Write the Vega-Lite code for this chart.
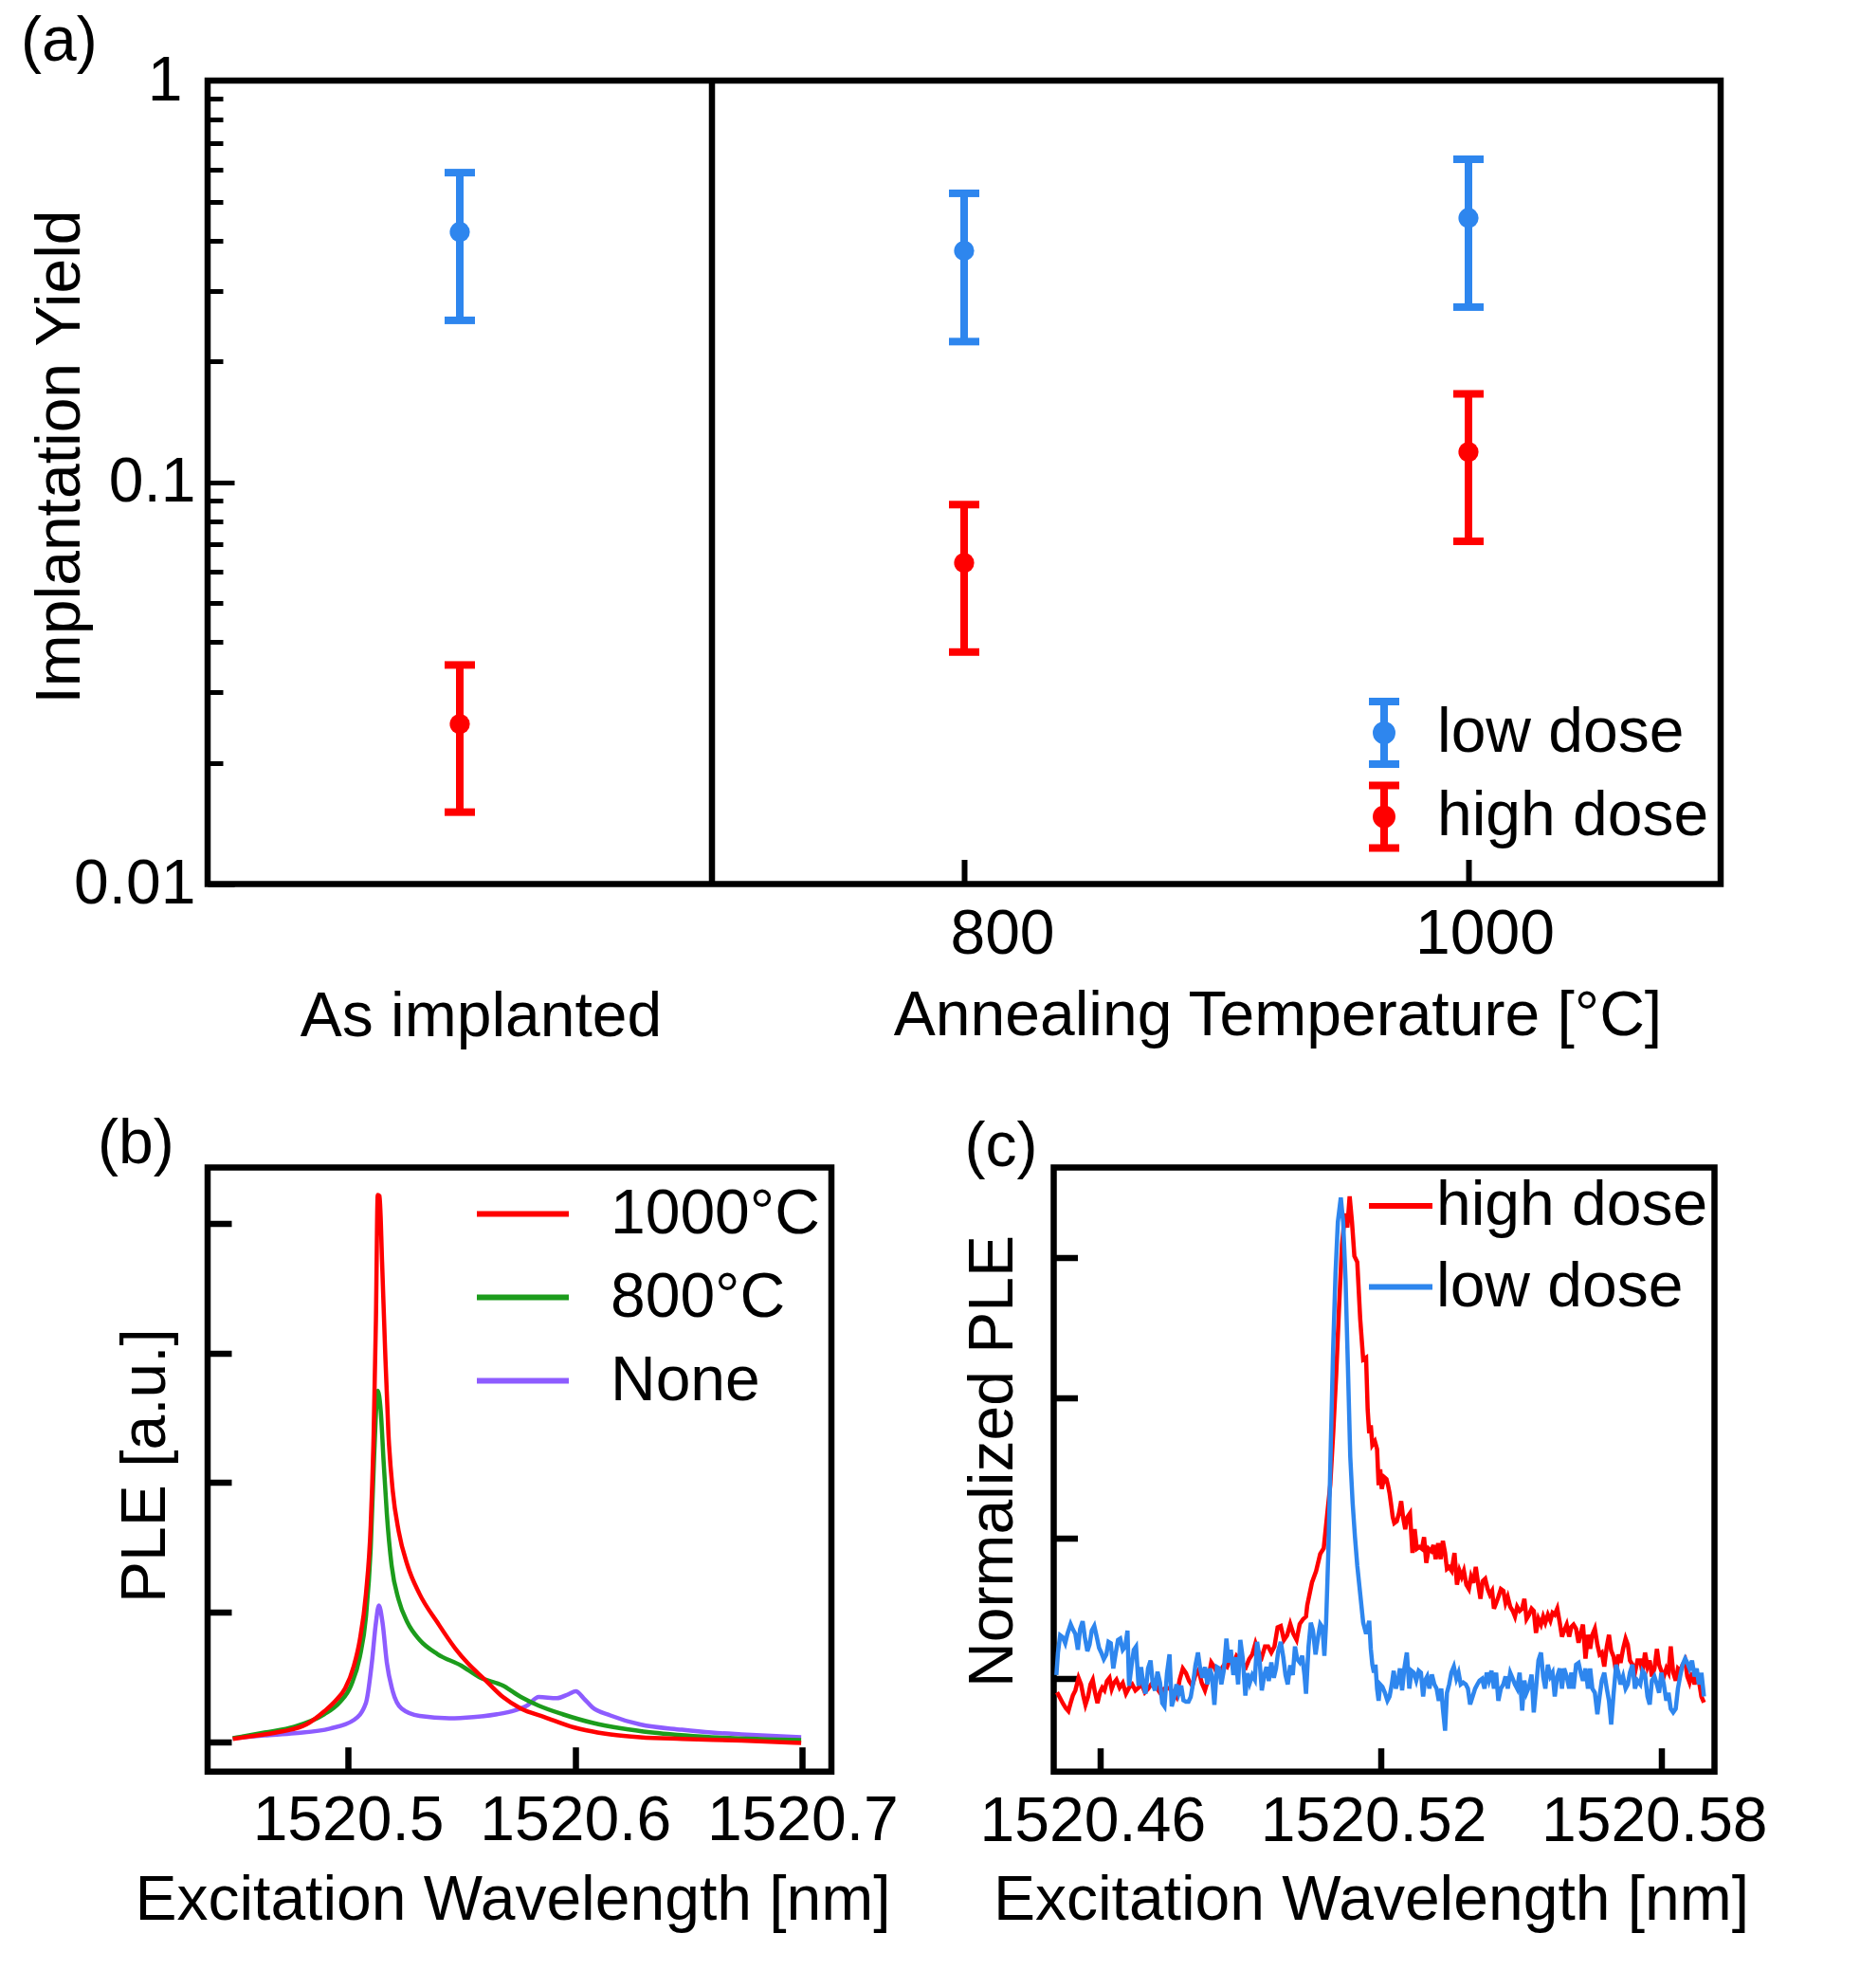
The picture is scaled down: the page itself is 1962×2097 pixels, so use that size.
{
  "$schema": "https://vega.github.io/schema/vega-lite/v6.json",
  "background": "white",
  "padding": {"left": 18, "top": 7, "right": 20, "bottom": 20},
  "config": {
    "font": "Liberation Sans",
    "view": {"stroke": "black", "strokeWidth": 6.5},
    "axis": {"domain": false, "grid": false, "tickColor": "black", "labelColor": "black", "titleColor": "black", "labelFont": "Liberation Sans", "titleFont": "Liberation Sans", "labelFontSize": 66, "titleFontSize": 66, "titleFontWeight": "normal", "tickWidth": 6, "labelFlush": false, "labelOverlap": false, "labelBound": false, "labelLimit": 0, "titleLimit": 0},
    "legend": {"labelFont": "Liberation Sans", "labelFontSize": 66, "labelColor": "black", "padding": 0, "labelLimit": 0},
    "title": {"font": "Liberation Sans", "fontSize": 66, "fontWeight": "normal", "color": "black", "anchor": "start", "frame": "group", "baseline": "alphabetic", "offset": 0}
  },
  "datasets": {
    "yield": [
      {"group": "As implanted", "pos": 600, "dose": "low dose", "yield": 0.42, "lo": 0.253, "hi": 0.59},
      {"group": "As implanted", "pos": 600, "dose": "high dose", "yield": 0.025, "lo": 0.0151, "hi": 0.0351},
      {"group": "800", "pos": 800, "dose": "low dose", "yield": 0.377, "lo": 0.224, "hi": 0.524},
      {"group": "800", "pos": 800, "dose": "high dose", "yield": 0.063, "lo": 0.0378, "hi": 0.088},
      {"group": "1000", "pos": 1000, "dose": "low dose", "yield": 0.455, "lo": 0.273, "hi": 0.637},
      {"group": "1000", "pos": 1000, "dose": "high dose", "yield": 0.119, "lo": 0.0713, "hi": 0.166}
    ],
    "divider": [{"boundary": 700}],
    "ple_b": [
      {"anneal": "None", "wl": 1520.4493, "ple": 0.027},
      {"anneal": "None", "wl": 1520.4633, "ple": 0.049},
      {"anneal": "None", "wl": 1520.4764, "ple": 0.066},
      {"anneal": "None", "wl": 1520.4921, "ple": 0.102},
      {"anneal": "None", "wl": 1520.5026, "ple": 0.168},
      {"anneal": "None", "wl": 1520.5079, "ple": 0.3},
      {"anneal": "None", "wl": 1520.5105, "ple": 0.61},
      {"anneal": "None", "wl": 1520.5123, "ple": 0.919},
      {"anneal": "None", "wl": 1520.5136, "ple": 1.051},
      {"anneal": "None", "wl": 1520.5152, "ple": 0.919},
      {"anneal": "None", "wl": 1520.5171, "ple": 0.61},
      {"anneal": "None", "wl": 1520.5197, "ple": 0.389},
      {"anneal": "None", "wl": 1520.5236, "ple": 0.256},
      {"anneal": "None", "wl": 1520.5315, "ple": 0.199},
      {"anneal": "None", "wl": 1520.5446, "ple": 0.181},
      {"anneal": "None", "wl": 1520.5551, "ple": 0.19},
      {"anneal": "None", "wl": 1520.5656, "ple": 0.212},
      {"anneal": "None", "wl": 1520.5735, "ple": 0.243},
      {"anneal": "None", "wl": 1520.5787, "ple": 0.278},
      {"anneal": "None", "wl": 1520.584, "ple": 0.345},
      {"anneal": "None", "wl": 1520.5919, "ple": 0.336},
      {"anneal": "None", "wl": 1520.5971, "ple": 0.367},
      {"anneal": "None", "wl": 1520.6003, "ple": 0.389},
      {"anneal": "None", "wl": 1520.6037, "ple": 0.336},
      {"anneal": "None", "wl": 1520.6076, "ple": 0.265},
      {"anneal": "None", "wl": 1520.6155, "ple": 0.203},
      {"anneal": "None", "wl": 1520.6286, "ple": 0.133},
      {"anneal": "None", "wl": 1520.647, "ple": 0.093},
      {"anneal": "None", "wl": 1520.6601, "ple": 0.071},
      {"anneal": "None", "wl": 1520.6732, "ple": 0.057},
      {"anneal": "None", "wl": 1520.6995, "ple": 0.035},
      {"anneal": "800°C", "wl": 1520.4493, "ple": 0.027},
      {"anneal": "800°C", "wl": 1520.4633, "ple": 0.071},
      {"anneal": "800°C", "wl": 1520.4764, "ple": 0.115},
      {"anneal": "800°C", "wl": 1520.4895, "ple": 0.212},
      {"anneal": "800°C", "wl": 1520.4961, "ple": 0.3},
      {"anneal": "800°C", "wl": 1520.5013, "ple": 0.433},
      {"anneal": "800°C", "wl": 1520.5052, "ple": 0.654},
      {"anneal": "800°C", "wl": 1520.5079, "ple": 0.963},
      {"anneal": "800°C", "wl": 1520.51, "ple": 1.493},
      {"anneal": "800°C", "wl": 1520.5115, "ple": 2.2},
      {"anneal": "800°C", "wl": 1520.5131, "ple": 2.708},
      {"anneal": "800°C", "wl": 1520.5144, "ple": 2.553},
      {"anneal": "800°C", "wl": 1520.5157, "ple": 2.155},
      {"anneal": "800°C", "wl": 1520.5171, "ple": 1.758},
      {"anneal": "800°C", "wl": 1520.5192, "ple": 1.36},
      {"anneal": "800°C", "wl": 1520.5223, "ple": 1.095},
      {"anneal": "800°C", "wl": 1520.5262, "ple": 0.919},
      {"anneal": "800°C", "wl": 1520.5315, "ple": 0.786},
      {"anneal": "800°C", "wl": 1520.5394, "ple": 0.676},
      {"anneal": "800°C", "wl": 1520.5499, "ple": 0.587},
      {"anneal": "800°C", "wl": 1520.5577, "ple": 0.499},
      {"anneal": "800°C", "wl": 1520.5682, "ple": 0.433},
      {"anneal": "800°C", "wl": 1520.5761, "ple": 0.345},
      {"anneal": "800°C", "wl": 1520.584, "ple": 0.278},
      {"anneal": "800°C", "wl": 1520.5945, "ple": 0.212},
      {"anneal": "800°C", "wl": 1520.6076, "ple": 0.146},
      {"anneal": "800°C", "wl": 1520.6207, "ple": 0.102},
      {"anneal": "800°C", "wl": 1520.6339, "ple": 0.071},
      {"anneal": "800°C", "wl": 1520.6601, "ple": 0.035},
      {"anneal": "800°C", "wl": 1520.6995, "ple": 0.013},
      {"anneal": "1000°C", "wl": 1520.4493, "ple": 0.022},
      {"anneal": "1000°C", "wl": 1520.458, "ple": 0.044},
      {"anneal": "1000°C", "wl": 1520.4711, "ple": 0.08},
      {"anneal": "1000°C", "wl": 1520.4816, "ple": 0.133},
      {"anneal": "1000°C", "wl": 1520.4895, "ple": 0.234},
      {"anneal": "1000°C", "wl": 1520.4948, "ple": 0.322},
      {"anneal": "1000°C", "wl": 1520.4987, "ple": 0.411},
      {"anneal": "1000°C", "wl": 1520.5026, "ple": 0.587},
      {"anneal": "1000°C", "wl": 1520.5052, "ple": 0.786},
      {"anneal": "1000°C", "wl": 1520.5079, "ple": 1.14},
      {"anneal": "1000°C", "wl": 1520.51, "ple": 1.67},
      {"anneal": "1000°C", "wl": 1520.5113, "ple": 2.376},
      {"anneal": "1000°C", "wl": 1520.5123, "ple": 3.26},
      {"anneal": "1000°C", "wl": 1520.5131, "ple": 4.218},
      {"anneal": "1000°C", "wl": 1520.5139, "ple": 4.209},
      {"anneal": "1000°C", "wl": 1520.515, "ple": 3.701},
      {"anneal": "1000°C", "wl": 1520.5163, "ple": 3.039},
      {"anneal": "1000°C", "wl": 1520.5178, "ple": 2.376},
      {"anneal": "1000°C", "wl": 1520.5197, "ple": 1.935},
      {"anneal": "1000°C", "wl": 1520.5223, "ple": 1.625},
      {"anneal": "1000°C", "wl": 1520.5262, "ple": 1.36},
      {"anneal": "1000°C", "wl": 1520.5315, "ple": 1.14},
      {"anneal": "1000°C", "wl": 1520.5394, "ple": 0.919},
      {"anneal": "1000°C", "wl": 1520.5472, "ple": 0.72},
      {"anneal": "1000°C", "wl": 1520.5525, "ple": 0.61},
      {"anneal": "1000°C", "wl": 1520.5604, "ple": 0.477},
      {"anneal": "1000°C", "wl": 1520.5682, "ple": 0.345},
      {"anneal": "1000°C", "wl": 1520.5761, "ple": 0.256},
      {"anneal": "1000°C", "wl": 1520.5866, "ple": 0.19},
      {"anneal": "1000°C", "wl": 1520.5997, "ple": 0.11},
      {"anneal": "1000°C", "wl": 1520.605, "ple": 0.088},
      {"anneal": "1000°C", "wl": 1520.6155, "ple": 0.057},
      {"anneal": "1000°C", "wl": 1520.6286, "ple": 0.035},
      {"anneal": "1000°C", "wl": 1520.647, "ple": 0.022},
      {"anneal": "1000°C", "wl": 1520.6732, "ple": 0.009},
      {"anneal": "1000°C", "wl": 1520.6995, "ple": -0.009}
    ],
    "ple_c": [
      {"dose": "high dose", "wl": 1520.45082, "ple": -0.029},
      {"dose": "high dose", "wl": 1520.45136, "ple": -0.039},
      {"dose": "high dose", "wl": 1520.45203, "ple": -0.052},
      {"dose": "high dose", "wl": 1520.45271, "ple": -0.063},
      {"dose": "high dose", "wl": 1520.45325, "ple": -0.069},
      {"dose": "high dose", "wl": 1520.45372, "ple": -0.052},
      {"dose": "high dose", "wl": 1520.45419, "ple": -0.036},
      {"dose": "high dose", "wl": 1520.45473, "ple": -0.025},
      {"dose": "high dose", "wl": 1520.45541, "ple": 0.002},
      {"dose": "high dose", "wl": 1520.45595, "ple": -0.012},
      {"dose": "high dose", "wl": 1520.45642, "ple": -0.036},
      {"dose": "high dose", "wl": 1520.45689, "ple": -0.056},
      {"dose": "high dose", "wl": 1520.45743, "ple": -0.039},
      {"dose": "high dose", "wl": 1520.45797, "ple": -0.012},
      {"dose": "high dose", "wl": 1520.45845, "ple": -0.002},
      {"dose": "high dose", "wl": 1520.45892, "ple": -0.029},
      {"dose": "high dose", "wl": 1520.45946, "ple": -0.052},
      {"dose": "high dose", "wl": 1520.46, "ple": -0.029},
      {"dose": "high dose", "wl": 1520.46047, "ple": -0.019},
      {"dose": "high dose", "wl": 1520.46095, "ple": -0.025},
      {"dose": "high dose", "wl": 1520.46149, "ple": -0.005},
      {"dose": "high dose", "wl": 1520.46203, "ple": 0.002},
      {"dose": "high dose", "wl": 1520.4625, "ple": -0.022},
      {"dose": "high dose", "wl": 1520.46297, "ple": -0.009},
      {"dose": "high dose", "wl": 1520.46351, "ple": -0.002},
      {"dose": "high dose", "wl": 1520.46419, "ple": -0.019},
      {"dose": "high dose", "wl": 1520.46486, "ple": -0.009},
      {"dose": "high dose", "wl": 1520.46554, "ple": -0.032},
      {"dose": "high dose", "wl": 1520.46621, "ple": -0.019},
      {"dose": "high dose", "wl": 1520.46689, "ple": -0.012},
      {"dose": "high dose", "wl": 1520.46756, "ple": -0.025},
      {"dose": "high dose", "wl": 1520.46824, "ple": -0.019},
      {"dose": "high dose", "wl": 1520.46891, "ple": -0.012},
      {"dose": "high dose", "wl": 1520.46959, "ple": -0.029},
      {"dose": "high dose", "wl": 1520.47026, "ple": -0.022},
      {"dose": "high dose", "wl": 1520.47094, "ple": -0.012},
      {"dose": "high dose", "wl": 1520.47161, "ple": -0.005},
      {"dose": "high dose", "wl": 1520.47229, "ple": -0.022},
      {"dose": "high dose", "wl": 1520.47296, "ple": -0.032},
      {"dose": "high dose", "wl": 1520.47364, "ple": -0.022},
      {"dose": "high dose", "wl": 1520.47431, "ple": -0.019},
      {"dose": "high dose", "wl": 1520.47499, "ple": -0.022},
      {"dose": "high dose", "wl": 1520.47566, "ple": -0.029},
      {"dose": "high dose", "wl": 1520.47634, "ple": -0.039},
      {"dose": "high dose", "wl": 1520.47702, "ple": -0.002},
      {"dose": "high dose", "wl": 1520.47769, "ple": 0.022},
      {"dose": "high dose", "wl": 1520.47837, "ple": 0.012},
      {"dose": "high dose", "wl": 1520.47904, "ple": -0.005},
      {"dose": "high dose", "wl": 1520.47972, "ple": -0.015},
      {"dose": "high dose", "wl": 1520.48039, "ple": 0.008},
      {"dose": "high dose", "wl": 1520.48107, "ple": 0.019},
      {"dose": "high dose", "wl": 1520.48174, "ple": -0.009},
      {"dose": "high dose", "wl": 1520.48242, "ple": -0.025},
      {"dose": "high dose", "wl": 1520.48309, "ple": -0.002},
      {"dose": "high dose", "wl": 1520.48377, "ple": 0.035},
      {"dose": "high dose", "wl": 1520.48444, "ple": 0.025},
      {"dose": "high dose", "wl": 1520.48512, "ple": 0.008},
      {"dose": "high dose", "wl": 1520.48579, "ple": 0.019},
      {"dose": "high dose", "wl": 1520.48647, "ple": 0.029},
      {"dose": "high dose", "wl": 1520.48714, "ple": 0.025},
      {"dose": "high dose", "wl": 1520.48782, "ple": 0.042},
      {"dose": "high dose", "wl": 1520.48849, "ple": 0.032},
      {"dose": "high dose", "wl": 1520.48917, "ple": 0.049},
      {"dose": "high dose", "wl": 1520.48984, "ple": 0.042},
      {"dose": "high dose", "wl": 1520.49052, "ple": 0.032},
      {"dose": "high dose", "wl": 1520.49119, "ple": 0.025},
      {"dose": "high dose", "wl": 1520.49187, "ple": 0.042},
      {"dose": "high dose", "wl": 1520.49254, "ple": 0.052},
      {"dose": "high dose", "wl": 1520.49322, "ple": 0.076},
      {"dose": "high dose", "wl": 1520.4939, "ple": 0.056},
      {"dose": "high dose", "wl": 1520.49457, "ple": 0.046},
      {"dose": "high dose", "wl": 1520.49525, "ple": 0.069},
      {"dose": "high dose", "wl": 1520.49592, "ple": 0.069},
      {"dose": "high dose", "wl": 1520.4966, "ple": 0.056},
      {"dose": "high dose", "wl": 1520.49727, "ple": 0.069},
      {"dose": "high dose", "wl": 1520.49795, "ple": 0.11},
      {"dose": "high dose", "wl": 1520.49862, "ple": 0.113},
      {"dose": "high dose", "wl": 1520.4993, "ple": 0.083},
      {"dose": "high dose", "wl": 1520.49997, "ple": 0.093},
      {"dose": "high dose", "wl": 1520.50065, "ple": 0.117},
      {"dose": "high dose", "wl": 1520.50132, "ple": 0.096},
      {"dose": "high dose", "wl": 1520.502, "ple": 0.083},
      {"dose": "high dose", "wl": 1520.50267, "ple": 0.117},
      {"dose": "high dose", "wl": 1520.50335, "ple": 0.127},
      {"dose": "high dose", "wl": 1520.50402, "ple": 0.133},
      {"dose": "high dose", "wl": 1520.50428, "ple": 0.157},
      {"dose": "high dose", "wl": 1520.50529, "ple": 0.206},
      {"dose": "high dose", "wl": 1520.50617, "ple": 0.23},
      {"dose": "high dose", "wl": 1520.50705, "ple": 0.267},
      {"dose": "high dose", "wl": 1520.5078, "ple": 0.279},
      {"dose": "high dose", "wl": 1520.50856, "ple": 0.353},
      {"dose": "high dose", "wl": 1520.50919, "ple": 0.414},
      {"dose": "high dose", "wl": 1520.50982, "ple": 0.524},
      {"dose": "high dose", "wl": 1520.51045, "ple": 0.647},
      {"dose": "high dose", "wl": 1520.51107, "ple": 0.793},
      {"dose": "high dose", "wl": 1520.5117, "ple": 0.928},
      {"dose": "high dose", "wl": 1520.51233, "ple": 0.995},
      {"dose": "high dose", "wl": 1520.51284, "ple": 0.965},
      {"dose": "high dose", "wl": 1520.51334, "ple": 1.032},
      {"dose": "high dose", "wl": 1520.51384, "ple": 0.977},
      {"dose": "high dose", "wl": 1520.51435, "ple": 0.904},
      {"dose": "high dose", "wl": 1520.51497, "ple": 0.891},
      {"dose": "high dose", "wl": 1520.5156, "ple": 0.769},
      {"dose": "high dose", "wl": 1520.51623, "ple": 0.683},
      {"dose": "high dose", "wl": 1520.51685, "ple": 0.687},
      {"dose": "high dose", "wl": 1520.51719, "ple": 0.576},
      {"dose": "high dose", "wl": 1520.51752, "ple": 0.525},
      {"dose": "high dose", "wl": 1520.51786, "ple": 0.542},
      {"dose": "high dose", "wl": 1520.51819, "ple": 0.5},
      {"dose": "high dose", "wl": 1520.51873, "ple": 0.508},
      {"dose": "high dose", "wl": 1520.5192, "ple": 0.491},
      {"dose": "high dose", "wl": 1520.51953, "ple": 0.414},
      {"dose": "high dose", "wl": 1520.51987, "ple": 0.448},
      {"dose": "high dose", "wl": 1520.5202, "ple": 0.406},
      {"dose": "high dose", "wl": 1520.52074, "ple": 0.431},
      {"dose": "high dose", "wl": 1520.52121, "ple": 0.427},
      {"dose": "high dose", "wl": 1520.52154, "ple": 0.414},
      {"dose": "high dose", "wl": 1520.52187, "ple": 0.397},
      {"dose": "high dose", "wl": 1520.52221, "ple": 0.372},
      {"dose": "high dose", "wl": 1520.52254, "ple": 0.346},
      {"dose": "high dose", "wl": 1520.52288, "ple": 0.333},
      {"dose": "high dose", "wl": 1520.52341, "ple": 0.337},
      {"dose": "high dose", "wl": 1520.52388, "ple": 0.354},
      {"dose": "high dose", "wl": 1520.52435, "ple": 0.38},
      {"dose": "high dose", "wl": 1520.52475, "ple": 0.346},
      {"dose": "high dose", "wl": 1520.52522, "ple": 0.32},
      {"dose": "high dose", "wl": 1520.52569, "ple": 0.346},
      {"dose": "high dose", "wl": 1520.52623, "ple": 0.354},
      {"dose": "high dose", "wl": 1520.52676, "ple": 0.269},
      {"dose": "high dose", "wl": 1520.52723, "ple": 0.32},
      {"dose": "high dose", "wl": 1520.5277, "ple": 0.278},
      {"dose": "high dose", "wl": 1520.52824, "ple": 0.282},
      {"dose": "high dose", "wl": 1520.52877, "ple": 0.278},
      {"dose": "high dose", "wl": 1520.52924, "ple": 0.303},
      {"dose": "high dose", "wl": 1520.52971, "ple": 0.248},
      {"dose": "high dose", "wl": 1520.53024, "ple": 0.278},
      {"dose": "high dose", "wl": 1520.53078, "ple": 0.273},
      {"dose": "high dose", "wl": 1520.53125, "ple": 0.286},
      {"dose": "high dose", "wl": 1520.53172, "ple": 0.256},
      {"dose": "high dose", "wl": 1520.53225, "ple": 0.29},
      {"dose": "high dose", "wl": 1520.53279, "ple": 0.256},
      {"dose": "high dose", "wl": 1520.53326, "ple": 0.295},
      {"dose": "high dose", "wl": 1520.53373, "ple": 0.269},
      {"dose": "high dose", "wl": 1520.53413, "ple": 0.235},
      {"dose": "high dose", "wl": 1520.5346, "ple": 0.239},
      {"dose": "high dose", "wl": 1520.53513, "ple": 0.231},
      {"dose": "high dose", "wl": 1520.53574, "ple": 0.269},
      {"dose": "high dose", "wl": 1520.53627, "ple": 0.201},
      {"dose": "high dose", "wl": 1520.53681, "ple": 0.231},
      {"dose": "high dose", "wl": 1520.53728, "ple": 0.218},
      {"dose": "high dose", "wl": 1520.53774, "ple": 0.231},
      {"dose": "high dose", "wl": 1520.53828, "ple": 0.201},
      {"dose": "high dose", "wl": 1520.53882, "ple": 0.192},
      {"dose": "high dose", "wl": 1520.53928, "ple": 0.218},
      {"dose": "high dose", "wl": 1520.53975, "ple": 0.205},
      {"dose": "high dose", "wl": 1520.54029, "ple": 0.239},
      {"dose": "high dose", "wl": 1520.54082, "ple": 0.201},
      {"dose": "high dose", "wl": 1520.54129, "ple": 0.171},
      {"dose": "high dose", "wl": 1520.54176, "ple": 0.209},
      {"dose": "high dose", "wl": 1520.5423, "ple": 0.214},
      {"dose": "high dose", "wl": 1520.54283, "ple": 0.192},
      {"dose": "high dose", "wl": 1520.5433, "ple": 0.18},
      {"dose": "high dose", "wl": 1520.54377, "ple": 0.188},
      {"dose": "high dose", "wl": 1520.54417, "ple": 0.15},
      {"dose": "high dose", "wl": 1520.54464, "ple": 0.162},
      {"dose": "high dose", "wl": 1520.54511, "ple": 0.175},
      {"dose": "high dose", "wl": 1520.54565, "ple": 0.192},
      {"dose": "high dose", "wl": 1520.54618, "ple": 0.188},
      {"dose": "high dose", "wl": 1520.54665, "ple": 0.162},
      {"dose": "high dose", "wl": 1520.54712, "ple": 0.175},
      {"dose": "high dose", "wl": 1520.54765, "ple": 0.154},
      {"dose": "high dose", "wl": 1520.54819, "ple": 0.145},
      {"dose": "high dose", "wl": 1520.54866, "ple": 0.133},
      {"dose": "high dose", "wl": 1520.54913, "ple": 0.154},
      {"dose": "high dose", "wl": 1520.54966, "ple": 0.145},
      {"dose": "high dose", "wl": 1520.5502, "ple": 0.15},
      {"dose": "high dose", "wl": 1520.55067, "ple": 0.171},
      {"dose": "high dose", "wl": 1520.55114, "ple": 0.128},
      {"dose": "high dose", "wl": 1520.55167, "ple": 0.137},
      {"dose": "high dose", "wl": 1520.55221, "ple": 0.15},
      {"dose": "high dose", "wl": 1520.55268, "ple": 0.145},
      {"dose": "high dose", "wl": 1520.55315, "ple": 0.098},
      {"dose": "high dose", "wl": 1520.55368, "ple": 0.128},
      {"dose": "high dose", "wl": 1520.55422, "ple": 0.116},
      {"dose": "high dose", "wl": 1520.55469, "ple": 0.133},
      {"dose": "high dose", "wl": 1520.55515, "ple": 0.12},
      {"dose": "high dose", "wl": 1520.55569, "ple": 0.137},
      {"dose": "high dose", "wl": 1520.55623, "ple": 0.124},
      {"dose": "high dose", "wl": 1520.55669, "ple": 0.141},
      {"dose": "high dose", "wl": 1520.55716, "ple": 0.137},
      {"dose": "high dose", "wl": 1520.5577, "ple": 0.15},
      {"dose": "high dose", "wl": 1520.55823, "ple": 0.12},
      {"dose": "high dose", "wl": 1520.5587, "ple": 0.09},
      {"dose": "high dose", "wl": 1520.55917, "ple": 0.103},
      {"dose": "high dose", "wl": 1520.55971, "ple": 0.116},
      {"dose": "high dose", "wl": 1520.56024, "ple": 0.09},
      {"dose": "high dose", "wl": 1520.56071, "ple": 0.111},
      {"dose": "high dose", "wl": 1520.56118, "ple": 0.116},
      {"dose": "high dose", "wl": 1520.56172, "ple": 0.107},
      {"dose": "high dose", "wl": 1520.56225, "ple": 0.077},
      {"dose": "high dose", "wl": 1520.56272, "ple": 0.098},
      {"dose": "high dose", "wl": 1520.56319, "ple": 0.116},
      {"dose": "high dose", "wl": 1520.56373, "ple": 0.043},
      {"dose": "high dose", "wl": 1520.56426, "ple": 0.094},
      {"dose": "high dose", "wl": 1520.56473, "ple": 0.064},
      {"dose": "high dose", "wl": 1520.5652, "ple": 0.094},
      {"dose": "high dose", "wl": 1520.56573, "ple": 0.107},
      {"dose": "high dose", "wl": 1520.56627, "ple": 0.073},
      {"dose": "high dose", "wl": 1520.56674, "ple": 0.052},
      {"dose": "high dose", "wl": 1520.56721, "ple": 0.056},
      {"dose": "high dose", "wl": 1520.56774, "ple": 0.026},
      {"dose": "high dose", "wl": 1520.56828, "ple": 0.069},
      {"dose": "high dose", "wl": 1520.56875, "ple": 0.094},
      {"dose": "high dose", "wl": 1520.56922, "ple": 0.06},
      {"dose": "high dose", "wl": 1520.56975, "ple": 0.047},
      {"dose": "high dose", "wl": 1520.57029, "ple": 0.013},
      {"dose": "high dose", "wl": 1520.57076, "ple": 0.052},
      {"dose": "high dose", "wl": 1520.57122, "ple": 0.034},
      {"dose": "high dose", "wl": 1520.57176, "ple": 0.064},
      {"dose": "high dose", "wl": 1520.5723, "ple": 0.086},
      {"dose": "high dose", "wl": 1520.57277, "ple": 0.073},
      {"dose": "high dose", "wl": 1520.57323, "ple": 0.039},
      {"dose": "high dose", "wl": 1520.57377, "ple": 0.03},
      {"dose": "high dose", "wl": 1520.5743, "ple": 0.013},
      {"dose": "high dose", "wl": 1520.57484, "ple": 0.039},
      {"dose": "high dose", "wl": 1520.57544, "ple": 0.039},
      {"dose": "high dose", "wl": 1520.57591, "ple": 0.013},
      {"dose": "high dose", "wl": 1520.57645, "ple": 0.056},
      {"dose": "high dose", "wl": 1520.57698, "ple": 0.026},
      {"dose": "high dose", "wl": 1520.57745, "ple": 0.039},
      {"dose": "high dose", "wl": 1520.57792, "ple": 0.005},
      {"dose": "high dose", "wl": 1520.57846, "ple": 0.022},
      {"dose": "high dose", "wl": 1520.57899, "ple": 0.064},
      {"dose": "high dose", "wl": 1520.57946, "ple": 0.03},
      {"dose": "high dose", "wl": 1520.57993, "ple": 0.017},
      {"dose": "high dose", "wl": 1520.58047, "ple": 0.005},
      {"dose": "high dose", "wl": 1520.581, "ple": 0.022},
      {"dose": "high dose", "wl": 1520.58147, "ple": 0.013},
      {"dose": "high dose", "wl": 1520.58194, "ple": 0.069},
      {"dose": "high dose", "wl": 1520.58247, "ple": 0.013},
      {"dose": "high dose", "wl": 1520.58301, "ple": -0.004},
      {"dose": "high dose", "wl": 1520.58348, "ple": 0.022},
      {"dose": "high dose", "wl": 1520.58395, "ple": 0.017},
      {"dose": "high dose", "wl": 1520.58448, "ple": 0.03},
      {"dose": "high dose", "wl": 1520.58502, "ple": 0.039},
      {"dose": "high dose", "wl": 1520.58549, "ple": 0.005},
      {"dose": "high dose", "wl": 1520.58596, "ple": -0.008},
      {"dose": "high dose", "wl": 1520.58649, "ple": 0.013},
      {"dose": "high dose", "wl": 1520.58703, "ple": -0.012},
      {"dose": "high dose", "wl": 1520.5875, "ple": 0.013},
      {"dose": "high dose", "wl": 1520.58796, "ple": -0.004},
      {"dose": "high dose", "wl": 1520.5885, "ple": -0.038},
      {"dose": "high dose", "wl": 1520.58904, "ple": -0.051},
      {"dose": "low dose", "wl": 1520.45068, "ple": 0.008},
      {"dose": "low dose", "wl": 1520.45102, "ple": 0.056},
      {"dose": "low dose", "wl": 1520.45149, "ple": 0.093},
      {"dose": "low dose", "wl": 1520.45203, "ple": 0.089},
      {"dose": "low dose", "wl": 1520.45257, "ple": 0.076},
      {"dose": "low dose", "wl": 1520.45305, "ple": 0.096},
      {"dose": "low dose", "wl": 1520.45372, "ple": 0.117},
      {"dose": "low dose", "wl": 1520.45419, "ple": 0.106},
      {"dose": "low dose", "wl": 1520.45473, "ple": 0.096},
      {"dose": "low dose", "wl": 1520.45527, "ple": 0.062},
      {"dose": "low dose", "wl": 1520.45575, "ple": 0.106},
      {"dose": "low dose", "wl": 1520.45629, "ple": 0.123},
      {"dose": "low dose", "wl": 1520.45676, "ple": 0.089},
      {"dose": "low dose", "wl": 1520.4573, "ple": 0.059},
      {"dose": "low dose", "wl": 1520.45777, "ple": 0.073},
      {"dose": "low dose", "wl": 1520.45824, "ple": 0.103},
      {"dose": "low dose", "wl": 1520.45878, "ple": 0.113},
      {"dose": "low dose", "wl": 1520.45932, "ple": 0.089},
      {"dose": "low dose", "wl": 1520.4598, "ple": 0.066},
      {"dose": "low dose", "wl": 1520.46027, "ple": 0.056},
      {"dose": "low dose", "wl": 1520.46081, "ple": 0.042},
      {"dose": "low dose", "wl": 1520.46135, "ple": 0.052},
      {"dose": "low dose", "wl": 1520.46182, "ple": 0.079},
      {"dose": "low dose", "wl": 1520.4623, "ple": 0.076},
      {"dose": "low dose", "wl": 1520.46284, "ple": 0.022},
      {"dose": "low dose", "wl": 1520.46338, "ple": 0.056},
      {"dose": "low dose", "wl": 1520.46385, "ple": 0.083},
      {"dose": "low dose", "wl": 1520.46432, "ple": 0.086},
      {"dose": "low dose", "wl": 1520.46486, "ple": 0.062},
      {"dose": "low dose", "wl": 1520.4654, "ple": 0.069},
      {"dose": "low dose", "wl": 1520.46587, "ple": 0.103},
      {"dose": "low dose", "wl": 1520.46621, "ple": -0.015},
      {"dose": "low dose", "wl": 1520.46675, "ple": 0.029},
      {"dose": "low dose", "wl": 1520.46722, "ple": 0.062},
      {"dose": "low dose", "wl": 1520.4677, "ple": 0.069},
      {"dose": "low dose", "wl": 1520.46824, "ple": -0.015},
      {"dose": "low dose", "wl": 1520.46878, "ple": 0.025},
      {"dose": "low dose", "wl": 1520.46925, "ple": -0.012},
      {"dose": "low dose", "wl": 1520.46972, "ple": -0.032},
      {"dose": "low dose", "wl": 1520.47026, "ple": 0.022},
      {"dose": "low dose", "wl": 1520.4708, "ple": 0.039},
      {"dose": "low dose", "wl": 1520.47128, "ple": -0.012},
      {"dose": "low dose", "wl": 1520.47175, "ple": -0.025},
      {"dose": "low dose", "wl": 1520.47229, "ple": 0.015},
      {"dose": "low dose", "wl": 1520.47283, "ple": -0.009},
      {"dose": "low dose", "wl": 1520.4733, "ple": -0.052},
      {"dose": "low dose", "wl": 1520.47377, "ple": -0.059},
      {"dose": "low dose", "wl": 1520.47431, "ple": 0.012},
      {"dose": "low dose", "wl": 1520.47485, "ple": 0.052},
      {"dose": "low dose", "wl": 1520.47533, "ple": -0.059},
      {"dose": "low dose", "wl": 1520.4758, "ple": -0.042},
      {"dose": "low dose", "wl": 1520.47634, "ple": -0.012},
      {"dose": "low dose", "wl": 1520.47681, "ple": -0.032},
      {"dose": "low dose", "wl": 1520.47735, "ple": -0.015},
      {"dose": "low dose", "wl": 1520.47783, "ple": -0.046},
      {"dose": "low dose", "wl": 1520.47837, "ple": -0.049},
      {"dose": "low dose", "wl": 1520.47891, "ple": -0.049},
      {"dose": "low dose", "wl": 1520.47938, "ple": -0.039},
      {"dose": "low dose", "wl": 1520.47985, "ple": -0.012},
      {"dose": "low dose", "wl": 1520.48039, "ple": 0.029},
      {"dose": "low dose", "wl": 1520.48093, "ple": 0.056},
      {"dose": "low dose", "wl": 1520.4814, "ple": 0.022},
      {"dose": "low dose", "wl": 1520.48188, "ple": 0.002},
      {"dose": "low dose", "wl": 1520.48242, "ple": 0.025},
      {"dose": "low dose", "wl": 1520.48296, "ple": -0.012},
      {"dose": "low dose", "wl": 1520.48343, "ple": 0.022},
      {"dose": "low dose", "wl": 1520.4839, "ple": 0.008},
      {"dose": "low dose", "wl": 1520.48444, "ple": -0.056},
      {"dose": "low dose", "wl": 1520.48498, "ple": 0.025},
      {"dose": "low dose", "wl": 1520.48546, "ple": 0.022},
      {"dose": "low dose", "wl": 1520.48593, "ple": -0.012},
      {"dose": "low dose", "wl": 1520.48647, "ple": 0.019},
      {"dose": "low dose", "wl": 1520.48701, "ple": 0.086},
      {"dose": "low dose", "wl": 1520.48748, "ple": 0.035},
      {"dose": "low dose", "wl": 1520.48795, "ple": 0.062},
      {"dose": "low dose", "wl": 1520.48849, "ple": 0.008},
      {"dose": "low dose", "wl": 1520.48903, "ple": 0.046},
      {"dose": "low dose", "wl": 1520.48951, "ple": -0.012},
      {"dose": "low dose", "wl": 1520.48998, "ple": 0.083},
      {"dose": "low dose", "wl": 1520.49052, "ple": 0.042},
      {"dose": "low dose", "wl": 1520.49106, "ple": -0.036},
      {"dose": "low dose", "wl": 1520.49153, "ple": 0.012},
      {"dose": "low dose", "wl": 1520.492, "ple": -0.009},
      {"dose": "low dose", "wl": 1520.49254, "ple": 0.008},
      {"dose": "low dose", "wl": 1520.49308, "ple": -0.002},
      {"dose": "low dose", "wl": 1520.49356, "ple": 0.079},
      {"dose": "low dose", "wl": 1520.49403, "ple": 0.049},
      {"dose": "low dose", "wl": 1520.49457, "ple": -0.025},
      {"dose": "low dose", "wl": 1520.49511, "ple": 0.008},
      {"dose": "low dose", "wl": 1520.49558, "ple": 0.025},
      {"dose": "low dose", "wl": 1520.49606, "ple": -0.005},
      {"dose": "low dose", "wl": 1520.4966, "ple": 0.035},
      {"dose": "low dose", "wl": 1520.49714, "ple": 0.002},
      {"dose": "low dose", "wl": 1520.49761, "ple": 0.022},
      {"dose": "low dose", "wl": 1520.49808, "ple": 0.059},
      {"dose": "low dose", "wl": 1520.49862, "ple": 0.079},
      {"dose": "low dose", "wl": 1520.49916, "ple": 0.046},
      {"dose": "low dose", "wl": 1520.49963, "ple": 0.008},
      {"dose": "low dose", "wl": 1520.50011, "ple": -0.012},
      {"dose": "low dose", "wl": 1520.50065, "ple": 0.029},
      {"dose": "low dose", "wl": 1520.50119, "ple": 0.008},
      {"dose": "low dose", "wl": 1520.50166, "ple": 0.069},
      {"dose": "low dose", "wl": 1520.50213, "ple": 0.042},
      {"dose": "low dose", "wl": 1520.50267, "ple": 0.035},
      {"dose": "low dose", "wl": 1520.50321, "ple": 0.049},
      {"dose": "low dose", "wl": 1520.50369, "ple": 0.008},
      {"dose": "low dose", "wl": 1520.50402, "ple": -0.032},
      {"dose": "low dose", "wl": 1520.50456, "ple": 0.069},
      {"dose": "low dose", "wl": 1520.50504, "ple": 0.12},
      {"dose": "low dose", "wl": 1520.50551, "ple": 0.103},
      {"dose": "low dose", "wl": 1520.50605, "ple": 0.052},
      {"dose": "low dose", "wl": 1520.50659, "ple": 0.089},
      {"dose": "low dose", "wl": 1520.50706, "ple": 0.117},
      {"dose": "low dose", "wl": 1520.50753, "ple": 0.11},
      {"dose": "low dose", "wl": 1520.50794, "ple": 0.049},
      {"dose": "low dose", "wl": 1520.50831, "ple": 0.12},
      {"dose": "low dose", "wl": 1520.50881, "ple": 0.279},
      {"dose": "low dose", "wl": 1520.50931, "ple": 0.5},
      {"dose": "low dose", "wl": 1520.50982, "ple": 0.708},
      {"dose": "low dose", "wl": 1520.51032, "ple": 0.867},
      {"dose": "low dose", "wl": 1520.51082, "ple": 0.977},
      {"dose": "low dose", "wl": 1520.51145, "ple": 1.029},
      {"dose": "low dose", "wl": 1520.51195, "ple": 0.977},
      {"dose": "low dose", "wl": 1520.51246, "ple": 0.855},
      {"dose": "low dose", "wl": 1520.51296, "ple": 0.671},
      {"dose": "low dose", "wl": 1520.51347, "ple": 0.475},
      {"dose": "low dose", "wl": 1520.51397, "ple": 0.377},
      {"dose": "low dose", "wl": 1520.51447, "ple": 0.304},
      {"dose": "low dose", "wl": 1520.51497, "ple": 0.242},
      {"dose": "low dose", "wl": 1520.5156, "ple": 0.181},
      {"dose": "low dose", "wl": 1520.51623, "ple": 0.12},
      {"dose": "low dose", "wl": 1520.51686, "ple": 0.096},
      {"dose": "low dose", "wl": 1520.51752, "ple": 0.124},
      {"dose": "low dose", "wl": 1520.51786, "ple": 0.064},
      {"dose": "low dose", "wl": 1520.51819, "ple": 0.03},
      {"dose": "low dose", "wl": 1520.51853, "ple": 0.013},
      {"dose": "low dose", "wl": 1520.51886, "ple": 0.03},
      {"dose": "low dose", "wl": 1520.5192, "ple": -0.021},
      {"dose": "low dose", "wl": 1520.51953, "ple": -0.047},
      {"dose": "low dose", "wl": 1520.51987, "ple": -0.012},
      {"dose": "low dose", "wl": 1520.52033, "ple": -0.017},
      {"dose": "low dose", "wl": 1520.52087, "ple": -0.03},
      {"dose": "low dose", "wl": 1520.52141, "ple": -0.047},
      {"dose": "low dose", "wl": 1520.52187, "ple": -0.038},
      {"dose": "low dose", "wl": 1520.52234, "ple": -0.012},
      {"dose": "low dose", "wl": 1520.52275, "ple": 0.017},
      {"dose": "low dose", "wl": 1520.52321, "ple": -0.021},
      {"dose": "low dose", "wl": 1520.52368, "ple": -0.004},
      {"dose": "low dose", "wl": 1520.52408, "ple": 0.022},
      {"dose": "low dose", "wl": 1520.52455, "ple": -0.025},
      {"dose": "low dose", "wl": 1520.52502, "ple": 0.022},
      {"dose": "low dose", "wl": 1520.52556, "ple": 0.056},
      {"dose": "low dose", "wl": 1520.52609, "ple": -0.021},
      {"dose": "low dose", "wl": 1520.52656, "ple": 0.017},
      {"dose": "low dose", "wl": 1520.52703, "ple": 0.013},
      {"dose": "low dose", "wl": 1520.52757, "ple": -0.004},
      {"dose": "low dose", "wl": 1520.5281, "ple": 0.017},
      {"dose": "low dose", "wl": 1520.52857, "ple": 0.013},
      {"dose": "low dose", "wl": 1520.52904, "ple": -0.038},
      {"dose": "low dose", "wl": 1520.52944, "ple": -0.004},
      {"dose": "low dose", "wl": 1520.52991, "ple": 0.005},
      {"dose": "low dose", "wl": 1520.53038, "ple": -0.021},
      {"dose": "low dose", "wl": 1520.53091, "ple": 0.009},
      {"dose": "low dose", "wl": 1520.53145, "ple": -0.012},
      {"dose": "low dose", "wl": 1520.53192, "ple": -0.021},
      {"dose": "low dose", "wl": 1520.53239, "ple": -0.047},
      {"dose": "low dose", "wl": 1520.53292, "ple": -0.021},
      {"dose": "low dose", "wl": 1520.53326, "ple": -0.064},
      {"dose": "low dose", "wl": 1520.53373, "ple": -0.111},
      {"dose": "low dose", "wl": 1520.53413, "ple": -0.03},
      {"dose": "low dose", "wl": 1520.5346, "ple": -0.012},
      {"dose": "low dose", "wl": 1520.53507, "ple": 0.013},
      {"dose": "low dose", "wl": 1520.5356, "ple": 0.026},
      {"dose": "low dose", "wl": 1520.53614, "ple": 0.0},
      {"dose": "low dose", "wl": 1520.53661, "ple": 0.013},
      {"dose": "low dose", "wl": 1520.53707, "ple": -0.012},
      {"dose": "low dose", "wl": 1520.53761, "ple": -0.008},
      {"dose": "low dose", "wl": 1520.53815, "ple": -0.012},
      {"dose": "low dose", "wl": 1520.53861, "ple": -0.021},
      {"dose": "low dose", "wl": 1520.53908, "ple": -0.055},
      {"dose": "low dose", "wl": 1520.53962, "ple": -0.038},
      {"dose": "low dose", "wl": 1520.54015, "ple": -0.021},
      {"dose": "low dose", "wl": 1520.54062, "ple": -0.012},
      {"dose": "low dose", "wl": 1520.54109, "ple": -0.004},
      {"dose": "low dose", "wl": 1520.54163, "ple": 0.0},
      {"dose": "low dose", "wl": 1520.54216, "ple": -0.021},
      {"dose": "low dose", "wl": 1520.54263, "ple": 0.013},
      {"dose": "low dose", "wl": 1520.5431, "ple": -0.004},
      {"dose": "low dose", "wl": 1520.54364, "ple": 0.017},
      {"dose": "low dose", "wl": 1520.54417, "ple": -0.021},
      {"dose": "low dose", "wl": 1520.54464, "ple": 0.013},
      {"dose": "low dose", "wl": 1520.54511, "ple": -0.047},
      {"dose": "low dose", "wl": 1520.54565, "ple": -0.021},
      {"dose": "low dose", "wl": 1520.54618, "ple": -0.012},
      {"dose": "low dose", "wl": 1520.54665, "ple": 0.005},
      {"dose": "low dose", "wl": 1520.54712, "ple": -0.021},
      {"dose": "low dose", "wl": 1520.54765, "ple": 0.013},
      {"dose": "low dose", "wl": 1520.54819, "ple": 0.0},
      {"dose": "low dose", "wl": 1520.54866, "ple": -0.012},
      {"dose": "low dose", "wl": 1520.54913, "ple": -0.021},
      {"dose": "low dose", "wl": 1520.54966, "ple": 0.013},
      {"dose": "low dose", "wl": 1520.5502, "ple": -0.068},
      {"dose": "low dose", "wl": 1520.55067, "ple": -0.004},
      {"dose": "low dose", "wl": 1520.55114, "ple": -0.03},
      {"dose": "low dose", "wl": 1520.55167, "ple": -0.017},
      {"dose": "low dose", "wl": 1520.55221, "ple": 0.009},
      {"dose": "low dose", "wl": 1520.55268, "ple": -0.072},
      {"dose": "low dose", "wl": 1520.55315, "ple": -0.021},
      {"dose": "low dose", "wl": 1520.55368, "ple": 0.039},
      {"dose": "low dose", "wl": 1520.55422, "ple": 0.056},
      {"dose": "low dose", "wl": 1520.55469, "ple": 0.005},
      {"dose": "low dose", "wl": 1520.55515, "ple": -0.021},
      {"dose": "low dose", "wl": 1520.55569, "ple": 0.03},
      {"dose": "low dose", "wl": 1520.55623, "ple": 0.005},
      {"dose": "low dose", "wl": 1520.55669, "ple": 0.013},
      {"dose": "low dose", "wl": 1520.55716, "ple": -0.038},
      {"dose": "low dose", "wl": 1520.5577, "ple": 0.005},
      {"dose": "low dose", "wl": 1520.55823, "ple": 0.022},
      {"dose": "low dose", "wl": 1520.5587, "ple": -0.021},
      {"dose": "low dose", "wl": 1520.55917, "ple": 0.022},
      {"dose": "low dose", "wl": 1520.55971, "ple": 0.005},
      {"dose": "low dose", "wl": 1520.56024, "ple": -0.021},
      {"dose": "low dose", "wl": 1520.56071, "ple": 0.013},
      {"dose": "low dose", "wl": 1520.56118, "ple": -0.021},
      {"dose": "low dose", "wl": 1520.56172, "ple": 0.03},
      {"dose": "low dose", "wl": 1520.56225, "ple": 0.034},
      {"dose": "low dose", "wl": 1520.56272, "ple": 0.013},
      {"dose": "low dose", "wl": 1520.56319, "ple": -0.004},
      {"dose": "low dose", "wl": 1520.56373, "ple": 0.022},
      {"dose": "low dose", "wl": 1520.56426, "ple": -0.021},
      {"dose": "low dose", "wl": 1520.56473, "ple": 0.022},
      {"dose": "low dose", "wl": 1520.5652, "ple": -0.021},
      {"dose": "low dose", "wl": 1520.56573, "ple": -0.03},
      {"dose": "low dose", "wl": 1520.56627, "ple": -0.076},
      {"dose": "low dose", "wl": 1520.56674, "ple": -0.038},
      {"dose": "low dose", "wl": 1520.56721, "ple": -0.004},
      {"dose": "low dose", "wl": 1520.56774, "ple": 0.013},
      {"dose": "low dose", "wl": 1520.56828, "ple": -0.021},
      {"dose": "low dose", "wl": 1520.56875, "ple": -0.047},
      {"dose": "low dose", "wl": 1520.56922, "ple": -0.098},
      {"dose": "low dose", "wl": 1520.56975, "ple": -0.03},
      {"dose": "low dose", "wl": 1520.57029, "ple": 0.03},
      {"dose": "low dose", "wl": 1520.57076, "ple": 0.013},
      {"dose": "low dose", "wl": 1520.57122, "ple": -0.012},
      {"dose": "low dose", "wl": 1520.57176, "ple": 0.005},
      {"dose": "low dose", "wl": 1520.5723, "ple": -0.021},
      {"dose": "low dose", "wl": 1520.57277, "ple": -0.012},
      {"dose": "low dose", "wl": 1520.57323, "ple": 0.013},
      {"dose": "low dose", "wl": 1520.57377, "ple": 0.03},
      {"dose": "low dose", "wl": 1520.5743, "ple": -0.021},
      {"dose": "low dose", "wl": 1520.57484, "ple": -0.004},
      {"dose": "low dose", "wl": 1520.57544, "ple": -0.012},
      {"dose": "low dose", "wl": 1520.57591, "ple": 0.017},
      {"dose": "low dose", "wl": 1520.57645, "ple": 0.009},
      {"dose": "low dose", "wl": 1520.57698, "ple": -0.038},
      {"dose": "low dose", "wl": 1520.57745, "ple": -0.055},
      {"dose": "low dose", "wl": 1520.57792, "ple": -0.004},
      {"dose": "low dose", "wl": 1520.57846, "ple": 0.005},
      {"dose": "low dose", "wl": 1520.57899, "ple": -0.012},
      {"dose": "low dose", "wl": 1520.57946, "ple": -0.03},
      {"dose": "low dose", "wl": 1520.57993, "ple": 0.013},
      {"dose": "low dose", "wl": 1520.58047, "ple": -0.012},
      {"dose": "low dose", "wl": 1520.581, "ple": -0.047},
      {"dose": "low dose", "wl": 1520.58147, "ple": -0.03},
      {"dose": "low dose", "wl": 1520.58194, "ple": -0.064},
      {"dose": "low dose", "wl": 1520.58247, "ple": -0.072},
      {"dose": "low dose", "wl": 1520.58301, "ple": -0.064},
      {"dose": "low dose", "wl": 1520.58348, "ple": -0.021},
      {"dose": "low dose", "wl": 1520.58395, "ple": 0.005},
      {"dose": "low dose", "wl": 1520.58448, "ple": 0.03},
      {"dose": "low dose", "wl": 1520.58502, "ple": 0.043},
      {"dose": "low dose", "wl": 1520.58549, "ple": 0.034},
      {"dose": "low dose", "wl": 1520.58596, "ple": 0.022},
      {"dose": "low dose", "wl": 1520.58649, "ple": 0.039},
      {"dose": "low dose", "wl": 1520.58703, "ple": 0.005},
      {"dose": "low dose", "wl": 1520.5875, "ple": 0.022},
      {"dose": "low dose", "wl": 1520.58796, "ple": -0.012},
      {"dose": "low dose", "wl": 1520.5885, "ple": 0.013},
      {"dose": "low dose", "wl": 1520.58904, "ple": -0.038}
    ]
  },
  "resolve": {"scale": {"color": "independent"}, "legend": {"color": "independent"}},
  "bounds": "flush",
  "spacing": 298.5,
  "vconcat": [
    {
      "width": 1596,
      "height": 847.5,
      "title": {"text": "(a)", "dx": -197, "dy": 29.7},
      "layer": [
        {
          "data": {"name": "divider"},
          "mark": {"type": "rule", "color": "black", "strokeWidth": 6.5},
          "encoding": {
            "x": {"field": "boundary", "type": "quantitative", "title": "Annealing Temperature [°C]", "scale": {"domain": [500, 1100], "nice": false, "zero": false}}
          }
        },
        {
          "data": {"name": "yield"},
          "mark": {"type": "rule", "strokeWidth": 8},
          "encoding": {
            "x": {"field": "pos", "type": "quantitative", "title": "Annealing Temperature [°C]",
              "axis": {
                "values": [600, 800, 1000],
                "format": "d",
                "labelExpr": "datum.value == 600 ? 'As implanted' : datum.label",
                "tickSize": -26,
                "tickWidth": 6,
                "tickOpacity": {"condition": {"test": "datum.value == 600", "value": 0}, "value": 1},
                "labelPadding": {"condition": {"test": "datum.value == 600", "value": 134}, "value": 47},
                "labelOffset": {"condition": [{"test": "datum.value == 600", "value": 22}, {"test": "datum.value == 800", "value": 40}], "value": 17},
                "titleX": 1128.5, "titleY": 158.7, "titleBaseline": "alphabetic", "titleAlign": "center"
              }
            },
            "y": {"field": "lo", "type": "quantitative", "title": "Implantation Yield",
              "scale": {"type": "log", "domain": [0.01, 1], "nice": false},
              "axis": {
                "values": [0.01, 0.02, 0.03, 0.04, 0.05, 0.06, 0.07, 0.08, 0.09, 0.1, 0.2, 0.3, 0.4, 0.5, 0.6, 0.7, 0.8, 0.9, 1],
                "labelExpr": "datum.value == 1 ? '1' : datum.value == 0.1 ? '0.1' : datum.value == 0.01 ? '0.01' : ''",
                "tickSize": {"condition": {"test": "datum.value == 1 || datum.value == 0.1 || datum.value == 0.01", "value": -28}, "value": -16},
                "tickWidth": 5,
                "labelPadding": {"condition": {"test": "datum.value == 1", "value": 55}, "value": 41},
                "titleX": -135.5, "titleY": 396.5, "titleBaseline": "alphabetic", "titleAlign": "center", "titleAngle": 270
              }
            },
            "y2": {"field": "hi"},
            "color": {"condition": {"test": "datum.dose === 'low dose'", "value": "#2e86ee"}, "value": "#ff0000"}
          }
        },
        {
          "data": {"name": "yield"},
          "mark": {"type": "tick", "orient": "horizontal", "size": 32, "thickness": 8, "opacity": 1},
          "encoding": {
            "x": {"field": "pos", "type": "quantitative", "title": "Annealing Temperature [°C]"},
            "y": {"field": "lo", "type": "quantitative", "title": "Implantation Yield"},
            "color": {"condition": {"test": "datum.dose === 'low dose'", "value": "#2e86ee"}, "value": "#ff0000"}
          }
        },
        {
          "data": {"name": "yield"},
          "mark": {"type": "tick", "orient": "horizontal", "size": 32, "thickness": 8, "opacity": 1},
          "encoding": {
            "x": {"field": "pos", "type": "quantitative", "title": "Annealing Temperature [°C]"},
            "y": {"field": "hi", "type": "quantitative", "title": "Implantation Yield"},
            "color": {"condition": {"test": "datum.dose === 'low dose'", "value": "#2e86ee"}, "value": "#ff0000"}
          }
        },
        {
          "data": {"name": "yield"},
          "mark": {"type": "point", "filled": true, "size": 450, "opacity": 1},
          "encoding": {
            "x": {"field": "pos", "type": "quantitative", "title": "Annealing Temperature [°C]"},
            "y": {"field": "yield", "type": "quantitative", "title": "Implantation Yield"},
            "color": {"field": "dose", "type": "nominal",
              "scale": {"domain": ["low dose", "high dose"], "range": ["#2e86ee", "#ff0000"]},
              "legend": {
                "orient": "none", "legendX": 1204, "legendY": 651, "title": null,
                "symbolType": "M-0.485,-1L0.485,-1M0,-1L0,1M-0.485,1L0.485,1M-0.242,0A0.242,0.242,0,1,1,0.242,0A0.242,0.242,0,1,1,-0.242,0Z",
                "symbolSize": 4356, "symbolStrokeWidth": 8, "symbolOpacity": 1,
                "labelOffset": 19, "rowPadding": -9.6, "padding": 0,
                "encode": {"symbols": {"update": {
                  "fill": {"signal": "datum.value === 'low dose' ? '#2e86ee' : '#ff0000'"},
                  "stroke": {"signal": "datum.value === 'low dose' ? '#2e86ee' : '#ff0000'"}
                }}}
              }
            }
          }
        }
      ]
    },
    {
      "resolve": {"scale": {"color": "independent"}, "legend": {"color": "independent"}},
      "bounds": "flush",
      "spacing": 234.5,
      "hconcat": [
        {
          "width": 658,
          "height": 637.2,
          "title": {"text": "(b)", "dx": -116, "dy": 16},
          "data": {"name": "ple_b"},
          "mark": {"type": "line", "strokeWidth": 4.5, "interpolate": "monotone"},
          "encoding": {
            "x": {"field": "wl", "type": "quantitative", "title": "Excitation Wavelength [nm]",
              "scale": {"domain": [1520.4382, 1520.7128], "nice": false, "zero": false},
              "axis": {"values": [1520.5, 1520.6, 1520.7], "format": ".1f", "tickSize": -26, "tickWidth": 6.5, "labelPadding": 46,
                "titleX": 321.5, "titleY": 156, "titleBaseline": "alphabetic", "titleAlign": "center"}
            },
            "y": {"field": "ple", "type": "quantitative", "title": "PLE [a.u.]",
              "scale": {"domain": [-0.23, 4.43], "nice": false, "zero": false},
              "axis": {"values": [0, 1, 2, 3, 4], "labels": false, "tickSize": -25, "tickWidth": 6.5,
                "titleX": -45.5, "titleY": 314, "titleBaseline": "alphabetic", "titleAlign": "center", "titleAngle": 270}
            },
            "color": {"field": "anneal", "type": "nominal",
              "scale": {"domain": ["1000°C", "800°C", "None"], "range": ["#ff0000", "#1c9c1c", "#8d5cff"]},
              "legend": {"orient": "none", "legendX": 281, "legendY": -2.5, "title": null, "symbolType": "stroke", "symbolSize": 9409, "symbolStrokeWidth": 6, "labelOffset": 41, "rowPadding": 3, "padding": 0}
            }
          }
        },
        {
          "width": 697,
          "height": 637.2,
          "title": {"text": "(c)", "dx": -94, "dy": 16},
          "data": {"name": "ple_c"},
          "mark": {"type": "line", "strokeWidth": 4.5},
          "encoding": {
            "x": {"field": "wl", "type": "quantitative", "title": "Excitation Wavelength [nm]",
              "scale": {"domain": [1520.45011, 1520.59129], "nice": false, "zero": false},
              "axis": {"values": [1520.46, 1520.52, 1520.58], "format": ".2f", "tickSize": -25, "tickWidth": 6.5, "labelPadding": 46, "labelOffset": -8,
                "titleX": 334.5, "titleY": 156, "titleBaseline": "alphabetic", "titleAlign": "center"}
            },
            "y": {"field": "ple", "type": "quantitative", "title": "Normalized PLE",
              "scale": {"domain": [-0.1985, 1.0935], "nice": false, "zero": false},
              "axis": {"values": [0, 0.3, 0.6, 0.9], "labels": false, "tickSize": -25, "tickWidth": 6.5,
                "titleX": -43.8, "titleY": 309.5, "titleBaseline": "alphabetic", "titleAlign": "center", "titleAngle": 270}
            },
            "color": {"field": "dose", "type": "nominal",
              "scale": {"domain": ["high dose", "low dose"], "range": ["#ff0000", "#2e86ee"]},
              "legend": {"orient": "none", "legendX": 329.5, "legendY": 4, "title": null, "symbolType": "stroke", "symbolSize": 4489, "symbolStrokeWidth": 6, "labelOffset": 1, "rowPadding": 15.6, "padding": 0}
            }
          }
        }
      ]
    }
  ]
}
